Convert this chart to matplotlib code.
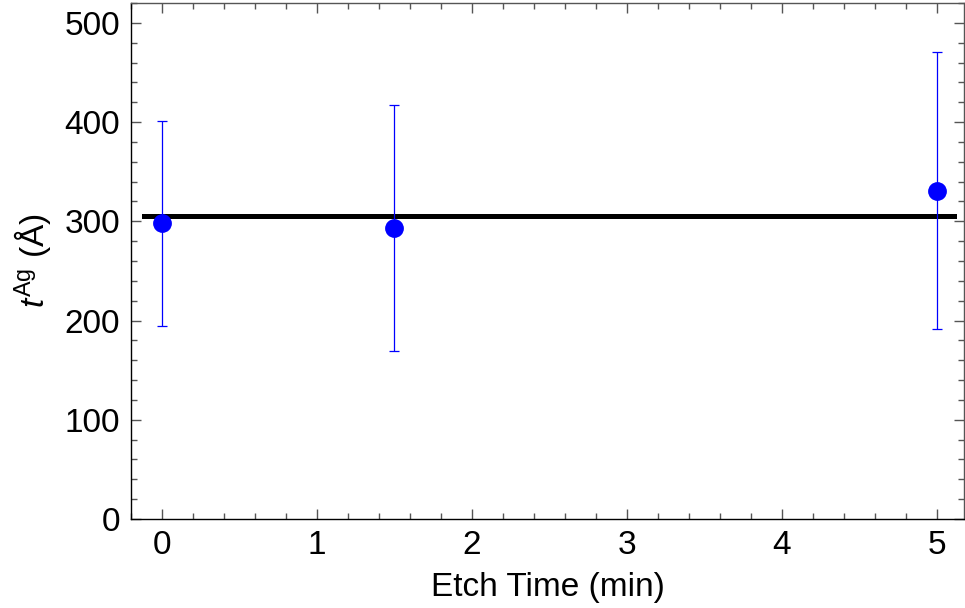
import matplotlib
matplotlib.use("Agg")
import matplotlib.pyplot as plt
from matplotlib.ticker import MultipleLocator

plt.rcParams['font.family'] = ['Liberation Sans', 'DejaVu Sans']
plt.rcParams['mathtext.fontset'] = 'custom'
plt.rcParams['mathtext.rm'] = 'Liberation Sans'
plt.rcParams['mathtext.it'] = 'Liberation Sans:italic'

etch_time = [0.0, 1.5, 5.0]
thickness = [298, 293, 331]
err = [103, 124, 140]
mean_level = 305.5
line_x = [-0.115, 5.11]

W, H = 965, 608
fig = plt.figure(figsize=(W/100, H/100), dpi=100)
left, right, top, bottom = 131, 964, 3, 519
ax = fig.add_axes([left/W, 1-bottom/H, (right-left)/W, (bottom-top)/H])

ax.plot(line_x, [mean_level, mean_level], color='black', lw=3.6, zorder=2)
ax.errorbar(etch_time, thickness, yerr=err, fmt='o', color='#0000ff', ms=12.5,
            ecolor='#0000ff', elinewidth=0.9, capsize=3.8, capthick=0.9, zorder=3)

ax.set_xlim(-0.2, (right - 161.7)/155)
ax.set_ylim(0, 520)
ax.xaxis.set_major_locator(MultipleLocator(1))
ax.xaxis.set_minor_locator(MultipleLocator(0.2))
ax.yaxis.set_major_locator(MultipleLocator(100))
ax.yaxis.set_minor_locator(MultipleLocator(20))
ax.tick_params(which='both', direction='in', top=True, right=True, color='#555555',
               labelsize=24, width=1)
ax.tick_params(which='major', length=7, pad=8)
ax.tick_params(which='minor', length=4)
for s in ax.spines.values():
    s.set_linewidth(1.0)
    s.set_color('#555555')
ax.spines['left'].set_color('black')
ax.spines['bottom'].set_color('black')

ax.set_xlabel('Etch Time (min)', fontsize=24, labelpad=8)
ax.set_ylabel(r'$t^{\mathrm{Ag}}$ (Å)', fontsize=24, labelpad=8)

fig.savefig('out.png', dpi=100)
